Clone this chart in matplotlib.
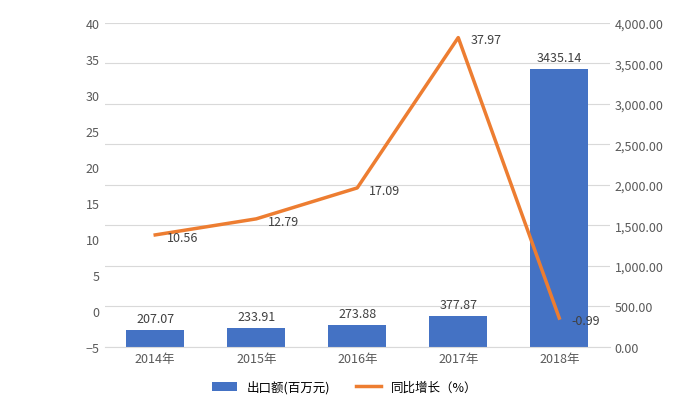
import numpy as np
import matplotlib.pyplot as plt

plt.rcParams['font.family'] = 'Noto Sans CJK SC'

years = ['2014年', '2015年', '2016年', '2017年', '2018年']
export_val = [207.07, 233.91, 273.88, 377.87, 3435.14]
growth = [10.56, 12.79, 17.09, 37.97, -0.99]

fig = plt.figure(figsize=(6.89, 4.06), dpi=100)
ax = fig.add_axes([0.152, 0.143, 0.733, 0.798])
ax2 = ax.twinx()

x = np.arange(len(years))
ax2.bar(x, export_val, width=0.57, color='#4472c4', label='出口额(百万元)')
for xi, v in zip(x, export_val):
    ax2.text(xi, v + 60, f'{v:.2f}', ha='center', va='bottom', fontsize=9, color='#404040')
ax2.set_ylim(0, 4000)
ax2.set_yticks(np.arange(0, 4001, 500))
ax2.set_yticklabels([f'{t:,.2f}' for t in np.arange(0, 4001, 500)])

ax.plot(x, growth, color='#ed7d31', lw=2.5, label='同比增长（%）')
for xi, v in zip(x, growth):
    ax.text(xi + 0.12, v - 0.3, f'{v:.2f}', ha='left', va='center', fontsize=9, color='#404040')
ax.set_ylim(-5, 40)
ax.set_yticks(np.arange(-5, 41, 5))
ax.set_zorder(ax2.get_zorder() + 1)
ax.patch.set_visible(False)

ax2.yaxis.grid(True, color='#d9d9d9', lw=0.8)
ax2.set_axisbelow(True)
ax.set_xticks(x)
ax.set_xticklabels(years)
ax.set_xlim(-0.5, 4.5)
for a in (ax, ax2):
    for s in a.spines.values():
        s.set_visible(False)
    a.tick_params(length=0, labelsize=9, colors='#595959')
ax2.spines['bottom'].set_visible(True)
ax2.spines['bottom'].set_color('#d9d9d9')

h1, l1 = ax2.get_legend_handles_labels()
h2, l2 = ax.get_legend_handles_labels()
fig.legend(h1 + h2, l1 + l2, loc='lower center', bbox_to_anchor=(0.5, 0.0),
           ncol=2, frameon=False, fontsize=9)

fig.savefig('out.png', dpi=100)
